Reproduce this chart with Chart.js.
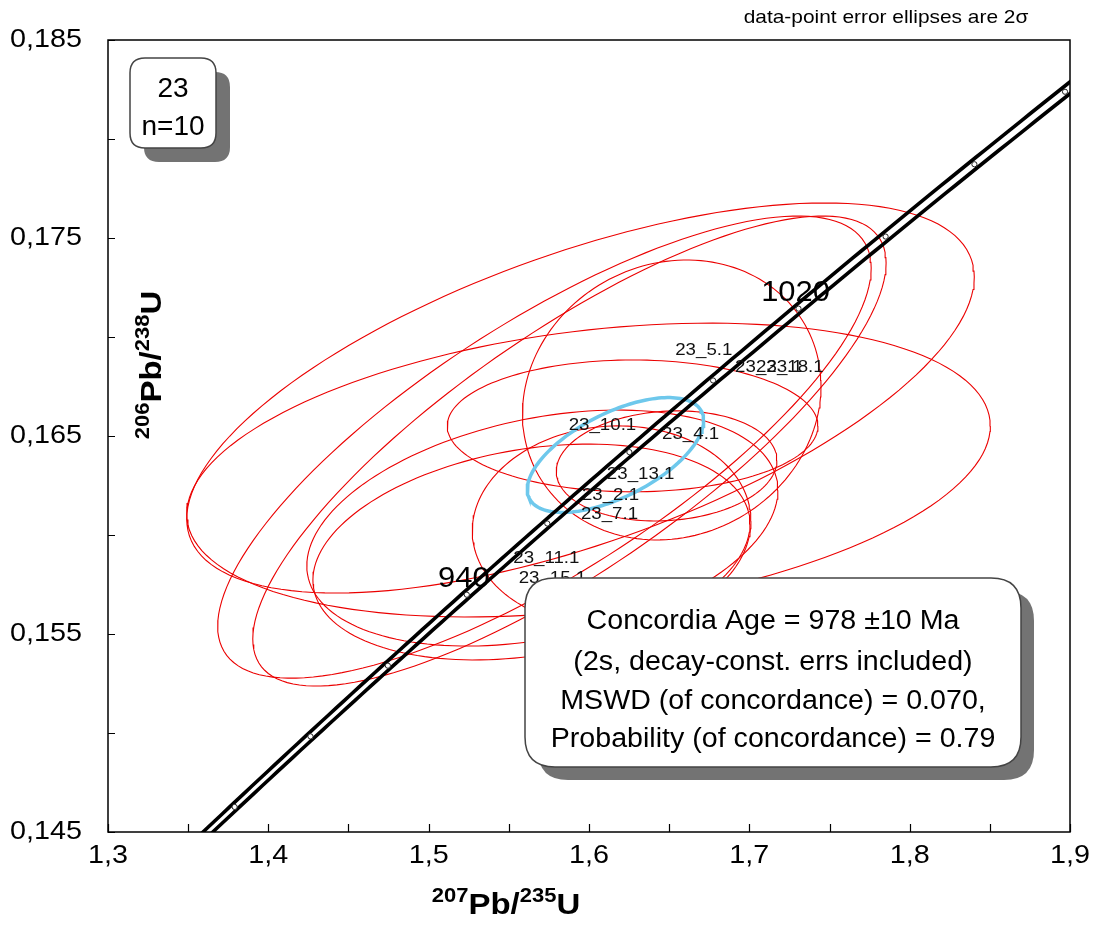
<!DOCTYPE html>
<html>
<head>
<meta charset="utf-8">
<script src="https://cdn.jsdelivr.net/npm/chart.js@4.4.1/dist/chart.umd.min.js"></script>
<style>
  html, body { margin: 0; padding: 0; background: #fff; }
  #wrap { width: 1100px; height: 935px; }
</style>
</head>
<body>
<div id="wrap"><canvas id="graph" width="1100" height="935"></canvas></div>
<script>
// axis ranges
const xMin = 1.3, xMax = 1.9;
const yMin = 0.145, yMax = 0.185;

// data-point ellipses (2 sigma): 207Pb/235U, 206Pb/238U, errors, error correlation
const pb207u235 = [1.5947, 1.5997, 1.5878, 1.5722, 1.5709, 1.5641, 1.6272, 1.6141, 1.6516, 1.6484];
const pb206u238 = [0.16692, 0.16328, 0.16424, 0.16444, 0.16035, 0.15914, 0.16551, 0.16046, 0.16682, 0.16349];
const err207 = [0.2456, 0.2506, 0.1975, 0.2038, 0.1469, 0.1363, 0.1156, 0.0869, 0.0931, 0.0688];
const err206 = [0.00985, 0.00742, 0.01187, 0.01167, 0.00596, 0.00545, 0.00333, 0.00505, 0.00707, 0.00278];
const rho = [0.62, 0.30, 0.80, 0.775, 0.32, 0.26, 0.0, 0.05, 0.10, 0.10];

// spot labels and where they sit
const spotLabels = ['23_5.1', '23_23.1', '23_18.1', '23_10.1', '23_4.1', '23_13.1', '23_2.1', '23_7.1', '23_11.1', '23_15.1'];
const labelX = [1.6716, 1.7122, 1.7253, 1.6084, 1.6634, 1.6322, 1.6134, 1.6128, 1.5734, 1.5772];
const labelY = [0.16934, 0.16849, 0.16849, 0.16556, 0.16510, 0.16308, 0.16202, 0.16106, 0.15884, 0.15783];

// concordia age ellipse
const ageEllipse = { x: 1.6165, y: 0.16404, ex: 0.055, ey: 0.0029, rho: 0.6 };

// concordia curve
const lambda235 = 9.8485e-10, lambda238 = 1.55125e-10;
const bandDelta = 0.0015;
const markerAges = [880, 900, 920, 940, 960, 980, 1000, 1020, 1040, 1060, 1080];
const ageLabels = [940, 1020];

const statsLines = [
  'Concordia Age = 978 \u00B110 Ma',
  '(2s, decay-const. errs included)',
  'MSWD (of concordance) = 0.070,',
  'Probability (of concordance) = 0.79'
];

function concordia(t, d) {
  return {
    x: Math.exp(lambda235 * (1 + d) * t * 1e6) - 1,
    y: Math.exp(lambda238 * t * 1e6) - 1
  };
}

function ellipsePoints(cx, cy, ex, ey, r) {
  const pts = [];
  const n = 160;
  const k = Math.sqrt(1 - r * r);
  for (let i = 0; i <= n; i++) {
    const a = 2 * Math.PI * i / n;
    pts.push({ x: cx + ex * Math.cos(a), y: cy + ey * (r * Math.cos(a) + k * Math.sin(a)) });
  }
  return pts;
}

const datasets = [];

// concordia markers on top
datasets.push({
  data: markerAges.map(t => concordia(t, 0)),
  showLine: false,
  pointRadius: 2.6,
  pointBackgroundColor: '#fff',
  pointBorderColor: '#222',
  pointBorderWidth: 1,
  order: 0
});

// the two lines of the concordia band
[bandDelta, -bandDelta].forEach(d => {
  const pts = [];
  for (let t = 850; t <= 1100; t += 2) pts.push(concordia(t, d));
  datasets.push({
    data: pts,
    showLine: true,
    pointRadius: 0,
    borderColor: '#000',
    borderWidth: 3.6,
    tension: 0,
    order: 1
  });
});

datasets.push({
  data: ellipsePoints(ageEllipse.x, ageEllipse.y, ageEllipse.ex, ageEllipse.ey, ageEllipse.rho),
  showLine: true,
  pointRadius: 0,
  borderColor: 'rgb(110,200,236)',
  borderWidth: 3.5,
  tension: 0,
  order: 2
});

pb207u235.forEach((v, i) => {
  datasets.push({
    data: ellipsePoints(v, pb206u238[i], err207[i], err206[i], rho[i]),
    showLine: true,
    pointRadius: 0,
    borderColor: 'rgb(235,0,0)',
    borderWidth: 1.1,
    tension: 0,
    order: 3
  });
});

const FONT = '"Liberation Sans", Arial, sans-serif';

function txt(ctx, s, x, y, size, o) {
  o = o || {};
  ctx.save();
  ctx.font = (o.bold ? 'bold ' : '') + size + 'px ' + FONT;
  ctx.textAlign = o.align || 'center';
  ctx.textBaseline = o.baseline || 'middle';
  ctx.fillStyle = o.color || '#000';
  ctx.translate(x, y);
  ctx.scale(o.sx || 1, 1);
  ctx.fillText(s, 0, 0);
  ctx.restore();
}

function roundBox(ctx, x0, y0, x1, y1, r) {
  ctx.beginPath();
  ctx.moveTo(x0 + r, y0);
  ctx.lineTo(x1 - r, y0);
  ctx.quadraticCurveTo(x1, y0, x1, y0 + r);
  ctx.lineTo(x1, y1 - r);
  ctx.quadraticCurveTo(x1, y1, x1 - r, y1);
  ctx.lineTo(x0 + r, y1);
  ctx.quadraticCurveTo(x0, y1, x0, y1 - r);
  ctx.lineTo(x0, y0 + r);
  ctx.quadraticCurveTo(x0, y0, x0 + r, y0);
  ctx.closePath();
}

function shadowBox(ctx, x0, y0, x1, y1, r, off) {
  ctx.save();
  roundBox(ctx, x0 + off, y0 + off, x1 + off, y1 + off, r);
  ctx.fillStyle = '#737373';
  ctx.fill();
  roundBox(ctx, x0, y0, x1, y1, r);
  ctx.fillStyle = '#fff';
  ctx.fill();
  ctx.strokeStyle = '#444';
  ctx.lineWidth = 1.5;
  ctx.stroke();
  ctx.restore();
}

// isotope ratio title: superscript mass numbers, bold
function ratioTitle(ctx, a, b, c, d, cx, cy, angle) {
  const big = 30, sup = 20, sx = 1.1;
  const parts = [[a, sup], [b, big], [c, sup], [d, big]];
  ctx.save();
  ctx.translate(cx, cy);
  ctx.rotate(angle);
  ctx.scale(sx, 1);
  let w = 0;
  parts.forEach(p => { ctx.font = 'bold ' + p[1] + 'px ' + FONT; w += ctx.measureText(p[0]).width; });
  let x = -w / 2;
  ctx.textBaseline = 'alphabetic';
  ctx.textAlign = 'left';
  ctx.fillStyle = '#000';
  parts.forEach(p => {
    ctx.font = 'bold ' + p[1] + 'px ' + FONT;
    ctx.fillText(p[0], x, p[1] === sup ? -1 : 11);
    x += ctx.measureText(p[0]).width;
  });
  ctx.restore();
}

function commaLabel(v, step) {
  return v.toFixed(step).replace('.', ',');
}

const decorations = {
  id: 'decorations',
  afterDatasetsDraw(chart) {
    const { ctx, scales: { x, y } } = chart;
    spotLabels.forEach((s, i) => {
      txt(ctx, s, x.getPixelForValue(labelX[i]), y.getPixelForValue(labelY[i]), 17, { sx: 1.1, color: '#111' });
    });
    ageLabels.forEach(t => {
      const p = concordia(t, 0);
      txt(ctx, String(t), x.getPixelForValue(p.x) - 3, y.getPixelForValue(p.y) - 16, 30, { sx: 1.03 });
    });
  },
  afterDraw(chart) {
    const { ctx, chartArea: a, scales: { x, y } } = chart;
    ctx.save();
    // frame
    ctx.strokeStyle = '#000';
    ctx.lineWidth = 1.5;
    ctx.strokeRect(a.left, a.top, a.right - a.left, a.bottom - a.top);
    // inward ticks
    ctx.lineWidth = 1.2;
    ctx.beginPath();
    x.ticks.forEach(t => {
      const px = Math.round(x.getPixelForValue(t.value)) + 0.5;
      ctx.moveTo(px, a.bottom);
      ctx.lineTo(px, a.bottom - 8);
    });
    y.ticks.forEach(t => {
      const py = Math.round(y.getPixelForValue(t.value)) + 0.5;
      ctx.moveTo(a.left, py);
      ctx.lineTo(a.left + 7, py);
    });
    ctx.stroke();
    ctx.restore();

    // tick labels, slightly wide like the original
    x.ticks.forEach(t => {
      if (Math.round(t.value * 100) % 10 === 0) {
        txt(ctx, commaLabel(t.value, 1), x.getPixelForValue(t.value), 856, 25, { sx: 1.15 });
      }
    });
    y.ticks.forEach(t => {
      if (Math.round(t.value * 1000) % 10 === 5) {
        txt(ctx, commaLabel(t.value, 3), 82, y.getPixelForValue(t.value), 25, { sx: 1.15, align: 'right' });
      }
    });

    // sample box
    shadowBox(ctx, 130, 58, 216, 148, 15, 14);
    txt(ctx, '23', 173, 89, 28);
    txt(ctx, 'n=10', 173, 127, 28);

    // result box
    shadowBox(ctx, 525, 578, 1021, 767, 30, 13);
    statsLines.forEach((s, i) => txt(ctx, s, 773, [622, 663, 702, 740][i], 27, { sx: 1.06 }));

    // note and axis titles
    txt(ctx, 'data-point error ellipses are 2\u03C3', 886, 18, 19, { sx: 1.1 });
    ratioTitle(ctx, '207', 'Pb/', '235', 'U', 506, 903, 0);
    ratioTitle(ctx, '206', 'Pb/', '238', 'U', 150, 365, -Math.PI / 2);
  }
};

new Chart(document.getElementById('graph').getContext('2d'), {
  type: 'scatter',
  data: { datasets },
  options: {
    responsive: false,
    animation: false,
    events: [],
    layout: { padding: { top: 40, right: 30, left: 0, bottom: 0 } },
    plugins: { legend: { display: false }, tooltip: { enabled: false } },
    scales: {
      x: {
        type: 'linear', min: xMin, max: xMax,
        grid: { display: false, drawTicks: false },
        border: { display: false },
        ticks: { stepSize: 0.05, autoSkip: false, display: false },
        afterFit(s) { s.height = 103; }
      },
      y: {
        type: 'linear', min: yMin, max: yMax,
        grid: { display: false, drawTicks: false },
        border: { display: false },
        ticks: { stepSize: 0.005, autoSkip: false, display: false },
        afterFit(s) { s.width = 108; }
      }
    }
  },
  plugins: [decorations]
});
</script>
</body>
</html>
